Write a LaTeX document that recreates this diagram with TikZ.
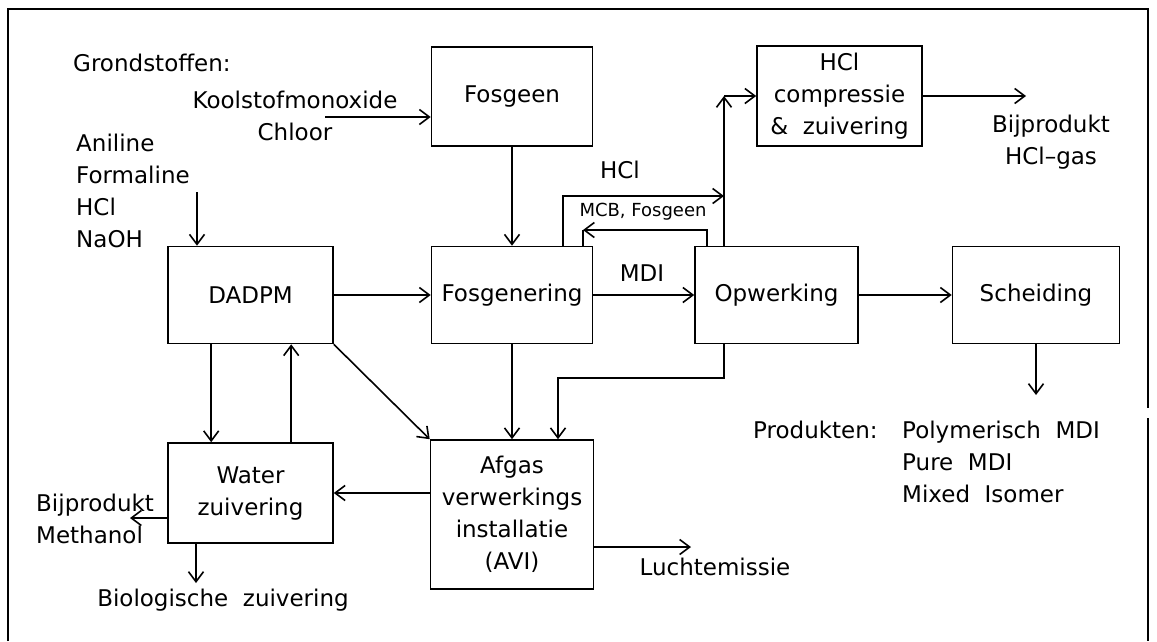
\documentclass[tikz,border=0pt]{standalone}
\usepackage{fontspec}
\setmainfont{DejaVu Sans}
\usepackage{tikz}
\usetikzlibrary{arrows.meta}
\tikzset{
  unit/.style={
    draw,line width=1.6pt,minimum width=165pt,minimum height=97pt,
    align=center,inner sep=2pt
  },
  tag/.style={inner sep=0pt,align=center},
  small/.style={font=\fontsize{18}{22}\selectfont},
  arrow/.style={-{Straight Barb[length=10pt,width=15pt]},line width=1.6pt}
}

\begin{document}
\begin{tikzpicture}[x=1pt,y=-1pt,font=\fontsize{23}{32}\selectfont]
      \useasboundingbox (0,0) rectangle (1157,641);
      % frame
      \draw[line width=2pt] (8,641) -- (8,9) -- (1148,9) -- (1148,408);
      \draw[line width=2pt] (1148,418) -- (1148,641);

      % process units
      \node[unit,minimum width=161pt,minimum height=99pt] (fosgeen) at (512,96.5) {Fosgeen};
      \node[unit,minimum height=100pt] (hclcomp) at (839.5,96) {HCl\\compressie\\\&\ \ zuivering};
      \node[unit] (dadpm) at (250.5,295) {DADPM};
      \node[unit,minimum width=161pt] (fosgenering) at (512,295) {Fosgenering};
      \node[unit,minimum width=163pt] (opwerking) at (776.5,295) {Opwerking};
      \node[unit,minimum width=167pt] (scheiding) at (1036,295) {Scheiding};
      \node[unit,minimum height=100pt] (water) at (250.5,493) {Water\\zuivering};
      \node[unit,minimum width=163pt,minimum height=149pt] (avi) at (512,514.5) {Afgas\\verwerkings\\installatie\\(AVI)};

      % texts
      \node[tag,anchor=west] (grond) at (73,63) {Grondstoffen:};
      \node[tag] (kool) at (295,116) {Koolstofmonoxide\\Chloor};
      \node[tag,anchor=west,align=left] (anil) at (76,190.5) {Aniline\\Formaline\\HCl\\NaOH};
      \node[tag] (hclgas) at (1051,142) {Bijprodukt\\HCl--gas};
      \node[tag] (hcllab) at (620,170) {HCl};
      \node[tag,small] (mcblab) at (643,212) {MCB, Fosgeen};
      \node[tag] (mdilab) at (642,273) {MDI};
      \node[tag,anchor=west,align=left] (meth) at (36,519) {Bijprodukt\\Methanol};
      \node[tag] (bio) at (223,600) {Biologische\ \ zuivering};
      \node[tag] (lucht) at (715,567) {Luchtemissie};
      \node[tag,anchor=west] (prodlab) at (753,430) {Produkten:};
      \node[tag,anchor=west,align=left] (prod) at (902,462) {Polymerisch\ \ MDI\\Pure\ \ MDI\\Mixed\ \ Isomer};

      % free ends
      \coordinate (koolin) at (325,117);
      \coordinate (anilin) at (197,192);
      \coordinate (hclout) at (1026,96);
      \coordinate (prodout) at (1036,395);
      \coordinate (methout) at (130,518);
      \coordinate (bioout) at (196,583);
      \coordinate (luchtout) at (691,547);
      \coordinate (riser) at (724,96);
      \coordinate (hcljoin) at (724,196);
      \coordinate (mcb) at (583,230);
      \coordinate (afvoer) at (558,378);

      % streams
      \draw[arrow] (koolin) -- (koolin -| fosgeen.west);
      \draw[arrow] (anilin) -- (anilin |- dadpm.north);
      \draw[arrow] (fosgeen) -- (fosgenering);
      \draw[arrow] (dadpm) -- (fosgenering);
      \draw[arrow] (fosgenering) -- (opwerking);
      \draw[arrow] (opwerking) -- (scheiding);
      \draw[arrow] (scheiding.south) -- (prodout);
      \draw[arrow] (hclcomp.east) -- (hclout);
      \draw[arrow] (riser |- opwerking.north) -- (riser);
      \draw[arrow] (riser) -- (riser -| hclcomp.west);
      \draw[arrow] ([xshift=51pt]fosgenering.north) |- (hcljoin);
      \draw[arrow] ([xshift=-69.5pt]opwerking.north) |- (mcb);
      \draw[line width=1.6pt] (mcb) -- (mcb |- fosgenering.north);
      \draw[arrow] (fosgenering.south) -- (fosgenering.south |- avi.north);
      \draw[arrow] (riser |- opwerking.south) |- (afvoer) -- (afvoer |- avi.north);
      \draw[arrow] (dadpm.south east) -- (avi.north west);
      \draw[arrow] ([xshift=44pt]dadpm.south west) -- ([xshift=44pt]water.north west);
      \draw[arrow] ([xshift=124pt]water.north west) -- ([xshift=124pt]dadpm.south west);
      \draw[arrow] (avi.west |- water.east) -- (water.east);
      \draw[arrow] (methout -| water.west) -- (methout);
      \draw[arrow] (bioout |- water.south) -- (bioout);
      \draw[arrow] (luchtout -| avi.east) -- (luchtout);
    \end{tikzpicture}
\end{document}
